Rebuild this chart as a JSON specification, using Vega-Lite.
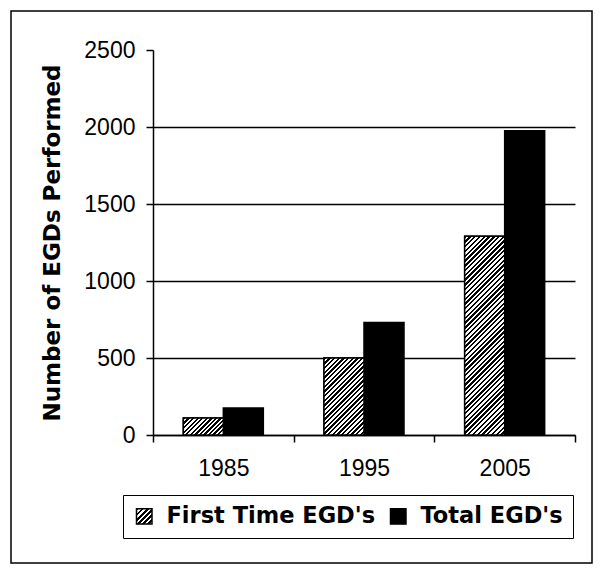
{
  "$schema": "https://vega.github.io/schema/vega-lite/v6.json",
  "width": 581,
  "height": 552,
  "autosize": "none",
  "padding": {"left": 11, "top": 11, "right": 8, "bottom": 13},
  "background": "white",
  "config": {"view": {"stroke": "black", "strokeWidth": 1.5}},
  "data": {"values": [
    {"year": "1985", "series": "First Time EGD's", "value": 110},
    {"year": "1985", "series": "Total EGD's", "value": 175},
    {"year": "1995", "series": "First Time EGD's", "value": 500},
    {"year": "1995", "series": "Total EGD's", "value": 730},
    {"year": "2005", "series": "First Time EGD's", "value": 1290},
    {"year": "2005", "series": "Total EGD's", "value": 1975}
  ]},
  "encoding": {
    "x": {
      "field": "year", "type": "nominal",
      "scale": {"range": [142, 564], "paddingInner": 0, "paddingOuter": 0},
      "axis": {
        "title": null, "labelAngle": 0, "offset": -128, "tickBand": "extent",
        "domainColor": "black", "domainWidth": 1.5, "tickColor": "black", "tickWidth": 1.5, "tickSize": 7,
        "labelFont": "Liberation Sans", "labelFontSize": 23, "labelColor": "black", "labelPadding": 15,
        "grid": false
      }
    },
    "xOffset": {
      "field": "series", "type": "nominal",
      "scale": {"domain": ["First Time EGD's", "Total EGD's"], "paddingInner": 0, "paddingOuter": 0.7584}
    },
    "y": {
      "field": "value", "type": "quantitative",
      "scale": {"domain": [0, 2500], "range": [424, 39], "nice": false},
      "axis": {
        "title": "Number of EGDs Performed", "values": [0, 500, 1000, 1500, 2000, 2500], "format": "d", "offset": -142,
        "domainColor": "black", "domainWidth": 1.5, "tickColor": "black", "tickWidth": 1.5, "tickSize": 7,
        "labelFont": "Liberation Sans", "labelFontSize": 23, "labelColor": "black", "labelPadding": 11,
        "grid": true,
        "gridColor": {"condition": {"test": "datum.value >= 2500", "value": "transparent"}, "value": "black"},
        "gridWidth": 1.5,
        "titleFont": "DejaVu Sans", "titleFontWeight": "bold", "titleFontSize": 23, "titleColor": "black", "titlePadding": 19
      }
    }
  },
  "layer": [
    {
      "mark": {"type": "bar", "stroke": "black", "strokeWidth": 1.5, "opacity": 1},
      "encoding": {
        "color": {
          "field": "series", "type": "nominal",
          "scale": {"domain": ["First Time EGD's", "Total EGD's"], "range": [
            {"expr": "{gradient: 'linear', x1: 0, y1: 0, x2: 1, y2: 1, stops: [{offset: 0, color: '#000'}, {offset: 0.0833, color: '#000'}, {offset: 0.0833, color: '#fff'}, {offset: 0.1667, color: '#fff'}, {offset: 0.1667, color: '#000'}, {offset: 0.25, color: '#000'}, {offset: 0.25, color: '#fff'}, {offset: 0.3333, color: '#fff'}, {offset: 0.3333, color: '#000'}, {offset: 0.4167, color: '#000'}, {offset: 0.4167, color: '#fff'}, {offset: 0.5, color: '#fff'}, {offset: 0.5, color: '#000'}, {offset: 0.5833, color: '#000'}, {offset: 0.5833, color: '#fff'}, {offset: 0.6667, color: '#fff'}, {offset: 0.6667, color: '#000'}, {offset: 0.75, color: '#000'}, {offset: 0.75, color: '#fff'}, {offset: 0.8333, color: '#fff'}, {offset: 0.8333, color: '#000'}, {offset: 0.9167, color: '#000'}, {offset: 0.9167, color: '#fff'}, {offset: 1, color: '#fff'}]}"},
            "#000000"
          ]},
          "legend": {
            "orient": "none", "legendX": 112, "legendY": 484, "direction": "horizontal", "title": null,
            "labelFont": "DejaVu Sans", "labelFontWeight": "bold", "labelFontSize": 22.5, "labelColor": "black", "labelLimit": 400,
            "symbolType": "square", "symbolSize": 240, "symbolStrokeColor": "black", "symbolStrokeWidth": 1.5, "symbolOpacity": 1,
            "labelOffset": 11, "columnPadding": 11, "padding": 10, "strokeColor": "black"
          }
        }
      }
    },
    {
      "transform": [{"filter": {"field": "series", "equal": "First Time EGD's"}}, {"filter": {"field": "year", "equal": "1985"}}],
      "mark": {"type": "bar", "stroke": "black", "strokeWidth": 1.5, "fill": {"gradient": "linear", "x1": 0, "y1": 0, "x2": 1.207, "y2": 0.5112, "stops": [
        {"offset": 0, "color": "#000"}, {"offset": 0.04, "color": "#000"},
        {"offset": 0.04, "color": "#fff"}, {"offset": 0.08, "color": "#fff"},
        {"offset": 0.08, "color": "#000"}, {"offset": 0.12, "color": "#000"},
        {"offset": 0.12, "color": "#fff"}, {"offset": 0.16, "color": "#fff"},
        {"offset": 0.16, "color": "#000"}, {"offset": 0.2, "color": "#000"},
        {"offset": 0.2, "color": "#fff"}, {"offset": 0.24, "color": "#fff"},
        {"offset": 0.24, "color": "#000"}, {"offset": 0.28, "color": "#000"},
        {"offset": 0.28, "color": "#fff"}, {"offset": 0.32, "color": "#fff"},
        {"offset": 0.32, "color": "#000"}, {"offset": 0.36, "color": "#000"},
        {"offset": 0.36, "color": "#fff"}, {"offset": 0.4, "color": "#fff"},
        {"offset": 0.4, "color": "#000"}, {"offset": 0.44, "color": "#000"},
        {"offset": 0.44, "color": "#fff"}, {"offset": 0.48, "color": "#fff"},
        {"offset": 0.48, "color": "#000"}, {"offset": 0.52, "color": "#000"},
        {"offset": 0.52, "color": "#fff"}, {"offset": 0.56, "color": "#fff"},
        {"offset": 0.56, "color": "#000"}, {"offset": 0.6, "color": "#000"},
        {"offset": 0.6, "color": "#fff"}, {"offset": 0.64, "color": "#fff"},
        {"offset": 0.64, "color": "#000"}, {"offset": 0.68, "color": "#000"},
        {"offset": 0.68, "color": "#fff"}, {"offset": 0.72, "color": "#fff"},
        {"offset": 0.72, "color": "#000"}, {"offset": 0.76, "color": "#000"},
        {"offset": 0.76, "color": "#fff"}, {"offset": 0.8, "color": "#fff"},
        {"offset": 0.8, "color": "#000"}, {"offset": 0.84, "color": "#000"},
        {"offset": 0.84, "color": "#fff"}, {"offset": 0.88, "color": "#fff"},
        {"offset": 0.88, "color": "#000"}, {"offset": 0.92, "color": "#000"},
        {"offset": 0.92, "color": "#fff"}, {"offset": 0.96, "color": "#fff"},
        {"offset": 0.96, "color": "#000"}, {"offset": 1, "color": "#000"}
      ]}}
    },
    {
      "transform": [{"filter": {"field": "series", "equal": "First Time EGD's"}}, {"filter": {"field": "year", "equal": "1995"}}],
      "mark": {"type": "bar", "stroke": "black", "strokeWidth": 1.5, "fill": {"gradient": "linear", "x1": 0, "y1": 0, "x2": 0.6216, "y2": 1.1966, "stops": [
        {"offset": 0, "color": "#000"}, {"offset": 0.02, "color": "#000"},
        {"offset": 0.02, "color": "#fff"}, {"offset": 0.04, "color": "#fff"},
        {"offset": 0.04, "color": "#000"}, {"offset": 0.06, "color": "#000"},
        {"offset": 0.06, "color": "#fff"}, {"offset": 0.08, "color": "#fff"},
        {"offset": 0.08, "color": "#000"}, {"offset": 0.1, "color": "#000"},
        {"offset": 0.1, "color": "#fff"}, {"offset": 0.12, "color": "#fff"},
        {"offset": 0.12, "color": "#000"}, {"offset": 0.14, "color": "#000"},
        {"offset": 0.14, "color": "#fff"}, {"offset": 0.16, "color": "#fff"},
        {"offset": 0.16, "color": "#000"}, {"offset": 0.18, "color": "#000"},
        {"offset": 0.18, "color": "#fff"}, {"offset": 0.2, "color": "#fff"},
        {"offset": 0.2, "color": "#000"}, {"offset": 0.22, "color": "#000"},
        {"offset": 0.22, "color": "#fff"}, {"offset": 0.24, "color": "#fff"},
        {"offset": 0.24, "color": "#000"}, {"offset": 0.26, "color": "#000"},
        {"offset": 0.26, "color": "#fff"}, {"offset": 0.28, "color": "#fff"},
        {"offset": 0.28, "color": "#000"}, {"offset": 0.3, "color": "#000"},
        {"offset": 0.3, "color": "#fff"}, {"offset": 0.32, "color": "#fff"},
        {"offset": 0.32, "color": "#000"}, {"offset": 0.34, "color": "#000"},
        {"offset": 0.34, "color": "#fff"}, {"offset": 0.36, "color": "#fff"},
        {"offset": 0.36, "color": "#000"}, {"offset": 0.38, "color": "#000"},
        {"offset": 0.38, "color": "#fff"}, {"offset": 0.4, "color": "#fff"},
        {"offset": 0.4, "color": "#000"}, {"offset": 0.42, "color": "#000"},
        {"offset": 0.42, "color": "#fff"}, {"offset": 0.44, "color": "#fff"},
        {"offset": 0.44, "color": "#000"}, {"offset": 0.46, "color": "#000"},
        {"offset": 0.46, "color": "#fff"}, {"offset": 0.48, "color": "#fff"},
        {"offset": 0.48, "color": "#000"}, {"offset": 0.5, "color": "#000"},
        {"offset": 0.5, "color": "#fff"}, {"offset": 0.52, "color": "#fff"},
        {"offset": 0.52, "color": "#000"}, {"offset": 0.54, "color": "#000"},
        {"offset": 0.54, "color": "#fff"}, {"offset": 0.56, "color": "#fff"},
        {"offset": 0.56, "color": "#000"}, {"offset": 0.58, "color": "#000"},
        {"offset": 0.58, "color": "#fff"}, {"offset": 0.6, "color": "#fff"},
        {"offset": 0.6, "color": "#000"}, {"offset": 0.62, "color": "#000"},
        {"offset": 0.62, "color": "#fff"}, {"offset": 0.64, "color": "#fff"},
        {"offset": 0.64, "color": "#000"}, {"offset": 0.66, "color": "#000"},
        {"offset": 0.66, "color": "#fff"}, {"offset": 0.68, "color": "#fff"},
        {"offset": 0.68, "color": "#000"}, {"offset": 0.7, "color": "#000"},
        {"offset": 0.7, "color": "#fff"}, {"offset": 0.72, "color": "#fff"},
        {"offset": 0.72, "color": "#000"}, {"offset": 0.74, "color": "#000"},
        {"offset": 0.74, "color": "#fff"}, {"offset": 0.76, "color": "#fff"},
        {"offset": 0.76, "color": "#000"}, {"offset": 0.78, "color": "#000"},
        {"offset": 0.78, "color": "#fff"}, {"offset": 0.8, "color": "#fff"},
        {"offset": 0.8, "color": "#000"}, {"offset": 0.82, "color": "#000"},
        {"offset": 0.82, "color": "#fff"}, {"offset": 0.84, "color": "#fff"},
        {"offset": 0.84, "color": "#000"}, {"offset": 0.86, "color": "#000"},
        {"offset": 0.86, "color": "#fff"}, {"offset": 0.88, "color": "#fff"},
        {"offset": 0.88, "color": "#000"}, {"offset": 0.9, "color": "#000"},
        {"offset": 0.9, "color": "#fff"}, {"offset": 0.92, "color": "#fff"},
        {"offset": 0.92, "color": "#000"}, {"offset": 0.94, "color": "#000"},
        {"offset": 0.94, "color": "#fff"}, {"offset": 0.96, "color": "#fff"},
        {"offset": 0.96, "color": "#000"}, {"offset": 0.98, "color": "#000"},
        {"offset": 0.98, "color": "#fff"}, {"offset": 1, "color": "#fff"}
      ]}}
    },
    {
      "transform": [{"filter": {"field": "series", "equal": "First Time EGD's"}}, {"filter": {"field": "year", "equal": "2005"}}],
      "mark": {"type": "bar", "stroke": "black", "strokeWidth": 1.5, "fill": {"gradient": "linear", "x1": 0, "y1": 0, "x2": 0.2325, "y2": 1.1545, "stops": [
        {"offset": 0, "color": "#000"}, {"offset": 0.01, "color": "#000"},
        {"offset": 0.01, "color": "#fff"}, {"offset": 0.02, "color": "#fff"},
        {"offset": 0.02, "color": "#000"}, {"offset": 0.03, "color": "#000"},
        {"offset": 0.03, "color": "#fff"}, {"offset": 0.04, "color": "#fff"},
        {"offset": 0.04, "color": "#000"}, {"offset": 0.05, "color": "#000"},
        {"offset": 0.05, "color": "#fff"}, {"offset": 0.06, "color": "#fff"},
        {"offset": 0.06, "color": "#000"}, {"offset": 0.07, "color": "#000"},
        {"offset": 0.07, "color": "#fff"}, {"offset": 0.08, "color": "#fff"},
        {"offset": 0.08, "color": "#000"}, {"offset": 0.09, "color": "#000"},
        {"offset": 0.09, "color": "#fff"}, {"offset": 0.1, "color": "#fff"},
        {"offset": 0.1, "color": "#000"}, {"offset": 0.11, "color": "#000"},
        {"offset": 0.11, "color": "#fff"}, {"offset": 0.12, "color": "#fff"},
        {"offset": 0.12, "color": "#000"}, {"offset": 0.13, "color": "#000"},
        {"offset": 0.13, "color": "#fff"}, {"offset": 0.14, "color": "#fff"},
        {"offset": 0.14, "color": "#000"}, {"offset": 0.15, "color": "#000"},
        {"offset": 0.15, "color": "#fff"}, {"offset": 0.16, "color": "#fff"},
        {"offset": 0.16, "color": "#000"}, {"offset": 0.17, "color": "#000"},
        {"offset": 0.17, "color": "#fff"}, {"offset": 0.18, "color": "#fff"},
        {"offset": 0.18, "color": "#000"}, {"offset": 0.19, "color": "#000"},
        {"offset": 0.19, "color": "#fff"}, {"offset": 0.2, "color": "#fff"},
        {"offset": 0.2, "color": "#000"}, {"offset": 0.21, "color": "#000"},
        {"offset": 0.21, "color": "#fff"}, {"offset": 0.22, "color": "#fff"},
        {"offset": 0.22, "color": "#000"}, {"offset": 0.23, "color": "#000"},
        {"offset": 0.23, "color": "#fff"}, {"offset": 0.24, "color": "#fff"},
        {"offset": 0.24, "color": "#000"}, {"offset": 0.25, "color": "#000"},
        {"offset": 0.25, "color": "#fff"}, {"offset": 0.26, "color": "#fff"},
        {"offset": 0.26, "color": "#000"}, {"offset": 0.27, "color": "#000"},
        {"offset": 0.27, "color": "#fff"}, {"offset": 0.28, "color": "#fff"},
        {"offset": 0.28, "color": "#000"}, {"offset": 0.29, "color": "#000"},
        {"offset": 0.29, "color": "#fff"}, {"offset": 0.3, "color": "#fff"},
        {"offset": 0.3, "color": "#000"}, {"offset": 0.31, "color": "#000"},
        {"offset": 0.31, "color": "#fff"}, {"offset": 0.32, "color": "#fff"},
        {"offset": 0.32, "color": "#000"}, {"offset": 0.33, "color": "#000"},
        {"offset": 0.33, "color": "#fff"}, {"offset": 0.34, "color": "#fff"},
        {"offset": 0.34, "color": "#000"}, {"offset": 0.35, "color": "#000"},
        {"offset": 0.35, "color": "#fff"}, {"offset": 0.36, "color": "#fff"},
        {"offset": 0.36, "color": "#000"}, {"offset": 0.37, "color": "#000"},
        {"offset": 0.37, "color": "#fff"}, {"offset": 0.38, "color": "#fff"},
        {"offset": 0.38, "color": "#000"}, {"offset": 0.39, "color": "#000"},
        {"offset": 0.39, "color": "#fff"}, {"offset": 0.4, "color": "#fff"},
        {"offset": 0.4, "color": "#000"}, {"offset": 0.41, "color": "#000"},
        {"offset": 0.41, "color": "#fff"}, {"offset": 0.42, "color": "#fff"},
        {"offset": 0.42, "color": "#000"}, {"offset": 0.43, "color": "#000"},
        {"offset": 0.43, "color": "#fff"}, {"offset": 0.44, "color": "#fff"},
        {"offset": 0.44, "color": "#000"}, {"offset": 0.45, "color": "#000"},
        {"offset": 0.45, "color": "#fff"}, {"offset": 0.46, "color": "#fff"},
        {"offset": 0.46, "color": "#000"}, {"offset": 0.47, "color": "#000"},
        {"offset": 0.47, "color": "#fff"}, {"offset": 0.48, "color": "#fff"},
        {"offset": 0.48, "color": "#000"}, {"offset": 0.49, "color": "#000"},
        {"offset": 0.49, "color": "#fff"}, {"offset": 0.5, "color": "#fff"},
        {"offset": 0.5, "color": "#000"}, {"offset": 0.51, "color": "#000"},
        {"offset": 0.51, "color": "#fff"}, {"offset": 0.52, "color": "#fff"},
        {"offset": 0.52, "color": "#000"}, {"offset": 0.53, "color": "#000"},
        {"offset": 0.53, "color": "#fff"}, {"offset": 0.54, "color": "#fff"},
        {"offset": 0.54, "color": "#000"}, {"offset": 0.55, "color": "#000"},
        {"offset": 0.55, "color": "#fff"}, {"offset": 0.56, "color": "#fff"},
        {"offset": 0.56, "color": "#000"}, {"offset": 0.57, "color": "#000"},
        {"offset": 0.57, "color": "#fff"}, {"offset": 0.58, "color": "#fff"},
        {"offset": 0.58, "color": "#000"}, {"offset": 0.59, "color": "#000"},
        {"offset": 0.59, "color": "#fff"}, {"offset": 0.6, "color": "#fff"},
        {"offset": 0.6, "color": "#000"}, {"offset": 0.61, "color": "#000"},
        {"offset": 0.61, "color": "#fff"}, {"offset": 0.62, "color": "#fff"},
        {"offset": 0.62, "color": "#000"}, {"offset": 0.63, "color": "#000"},
        {"offset": 0.63, "color": "#fff"}, {"offset": 0.64, "color": "#fff"},
        {"offset": 0.64, "color": "#000"}, {"offset": 0.65, "color": "#000"},
        {"offset": 0.65, "color": "#fff"}, {"offset": 0.66, "color": "#fff"},
        {"offset": 0.66, "color": "#000"}, {"offset": 0.67, "color": "#000"},
        {"offset": 0.67, "color": "#fff"}, {"offset": 0.68, "color": "#fff"},
        {"offset": 0.68, "color": "#000"}, {"offset": 0.69, "color": "#000"},
        {"offset": 0.69, "color": "#fff"}, {"offset": 0.7, "color": "#fff"},
        {"offset": 0.7, "color": "#000"}, {"offset": 0.71, "color": "#000"},
        {"offset": 0.71, "color": "#fff"}, {"offset": 0.72, "color": "#fff"},
        {"offset": 0.72, "color": "#000"}, {"offset": 0.73, "color": "#000"},
        {"offset": 0.73, "color": "#fff"}, {"offset": 0.74, "color": "#fff"},
        {"offset": 0.74, "color": "#000"}, {"offset": 0.75, "color": "#000"},
        {"offset": 0.75, "color": "#fff"}, {"offset": 0.76, "color": "#fff"},
        {"offset": 0.76, "color": "#000"}, {"offset": 0.77, "color": "#000"},
        {"offset": 0.77, "color": "#fff"}, {"offset": 0.78, "color": "#fff"},
        {"offset": 0.78, "color": "#000"}, {"offset": 0.79, "color": "#000"},
        {"offset": 0.79, "color": "#fff"}, {"offset": 0.8, "color": "#fff"},
        {"offset": 0.8, "color": "#000"}, {"offset": 0.81, "color": "#000"},
        {"offset": 0.81, "color": "#fff"}, {"offset": 0.82, "color": "#fff"},
        {"offset": 0.82, "color": "#000"}, {"offset": 0.83, "color": "#000"},
        {"offset": 0.83, "color": "#fff"}, {"offset": 0.84, "color": "#fff"},
        {"offset": 0.84, "color": "#000"}, {"offset": 0.85, "color": "#000"},
        {"offset": 0.85, "color": "#fff"}, {"offset": 0.86, "color": "#fff"},
        {"offset": 0.86, "color": "#000"}, {"offset": 0.87, "color": "#000"},
        {"offset": 0.87, "color": "#fff"}, {"offset": 0.88, "color": "#fff"},
        {"offset": 0.88, "color": "#000"}, {"offset": 0.89, "color": "#000"},
        {"offset": 0.89, "color": "#fff"}, {"offset": 0.9, "color": "#fff"},
        {"offset": 0.9, "color": "#000"}, {"offset": 0.91, "color": "#000"},
        {"offset": 0.91, "color": "#fff"}, {"offset": 0.92, "color": "#fff"},
        {"offset": 0.92, "color": "#000"}, {"offset": 0.93, "color": "#000"},
        {"offset": 0.93, "color": "#fff"}, {"offset": 0.94, "color": "#fff"},
        {"offset": 0.94, "color": "#000"}, {"offset": 0.95, "color": "#000"},
        {"offset": 0.95, "color": "#fff"}, {"offset": 0.96, "color": "#fff"},
        {"offset": 0.96, "color": "#000"}, {"offset": 0.97, "color": "#000"},
        {"offset": 0.97, "color": "#fff"}, {"offset": 0.98, "color": "#fff"},
        {"offset": 0.98, "color": "#000"}, {"offset": 0.99, "color": "#000"},
        {"offset": 0.99, "color": "#fff"}, {"offset": 1, "color": "#fff"}
      ]}}
    }
  ]
}
